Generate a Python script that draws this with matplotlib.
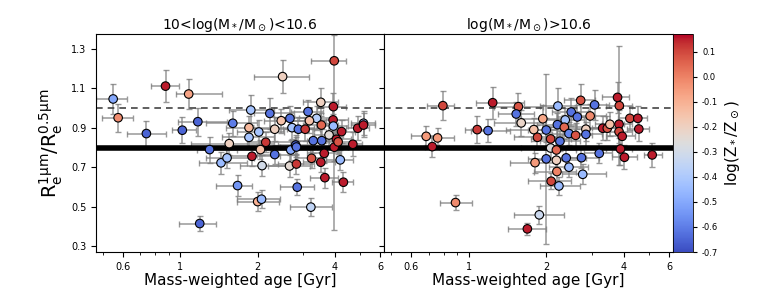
"""Size ratio vs mass-weighted age, two stellar-mass bins, coloured by metallicity."""

import numpy as np
import matplotlib
matplotlib.use("Agg")
import matplotlib.pyplot as plt
from matplotlib.ticker import FixedLocator, FixedFormatter, NullFormatter

plt.rcParams['mathtext.fontset'] = 'dejavusans'

# low-mass bin: 10 < log(M*/Msun) < 10.6
low_age = [0.548, 0.573, 0.876, 1.078, 0.738, 1.018, 1.17, 1.30, 1.19, 1.55,
           1.44, 1.52, 1.60, 1.67, 1.88, 1.85, 1.85, 2.02, 1.90, 2.05,
           2.15, 2.08, 2.00, 2.07, 2.23, 2.33, 2.33, 2.50, 2.47, 2.67,
           2.72, 2.69, 2.66, 2.83, 2.81, 2.83, 2.85, 3.24, 3.52, 3.63,
           3.65, 3.97, 4.31, 4.19, 3.22, 4.69, 3.97, 3.52, 3.94, 3.14,
           3.39, 3.18, 3.54, 3.93, 3.94, 4.24, 3.79, 4.90, 5.16, 5.16,
           2.88, 3.06, 3.29, 3.55, 4.05, 4.11]
low_age_lo = [0.469, 0.498, 0.770, 0.959, 0.623, 0.928, 0.98, 1.16, 0.99, 1.10,
              1.18, 1.26, 1.26, 1.38, 1.54, 1.51, 1.45, 1.66, 1.56, 1.51,
              1.81, 1.71, 1.66, 1.66, 1.93, 1.99, 1.93, 1.93, 2.11, 2.31,
              2.24, 2.24, 2.20, 2.40, 2.40, 2.45, 2.45, 2.80, 3.00, 3.10,
              3.20, 3.40, 3.90, 3.70, 2.67, 4.20, 3.21, 3.00, 3.40, 2.70,
              2.90, 2.70, 3.00, 3.40, 3.40, 3.70, 3.30, 4.40, 4.60, 4.60,
              2.50, 2.60, 2.80, 3.10, 3.50, 3.60]
low_age_hi = [0.623, 0.656, 0.988, 1.45, 0.881, 1.155, 1.52, 1.66, 1.38, 2.31,
              1.81, 1.93, 1.99, 1.90, 2.31, 2.24, 2.31, 2.53, 2.45, 2.31,
              2.77, 2.60, 2.42, 2.45, 2.77, 2.85, 2.77, 3.17, 3.12, 3.12,
              3.31, 3.20, 3.20, 3.30, 3.30, 3.30, 3.30, 3.70, 4.00, 4.20,
              4.10, 4.50, 4.70, 4.70, 3.90, 5.10, 4.41, 4.10, 4.40, 3.60,
              3.90, 3.70, 4.10, 4.50, 4.50, 4.80, 4.30, 5.40, 5.70, 5.70,
              3.30, 3.50, 3.80, 4.10, 4.60, 4.70]
low_ratio = [1.046, 0.951, 1.111, 1.071, 0.871, 0.888, 0.931, 0.790, 0.416, 0.820,
             0.723, 0.748, 0.923, 0.608, 0.990, 0.901, 0.852, 0.879, 0.756, 0.790,
             0.827, 0.709, 0.527, 0.539, 0.973, 0.765, 0.893, 1.159, 0.936, 0.948,
             0.901, 0.788, 0.707, 0.717, 0.813, 0.803, 0.600, 0.746, 0.726, 0.771,
             0.648, 0.802, 0.625, 0.738, 0.499, 0.817, 1.239, 1.029, 1.007, 0.982,
             0.948, 0.936, 0.914, 0.940, 0.909, 0.881, 0.864, 0.898, 0.923, 0.914,
             0.893, 0.893, 0.835, 0.835, 0.842, 0.829]
low_ratio_lo = [0.077, 0.072, 0.080, 0.077, 0.066, 0.066, 0.070, 0.066, 0.040, 0.055,
                0.054, 0.050, 0.063, 0.055, 0.078, 0.060, 0.060, 0.060, 0.050, 0.050,
                0.050, 0.055, 0.050, 0.045, 0.080, 0.050, 0.060, 0.085, 0.060, 0.060,
                0.060, 0.050, 0.055, 0.050, 0.050, 0.050, 0.040, 0.050, 0.050, 0.050,
                0.050, 0.070, 0.050, 0.050, 0.045, 0.060, 0.855, 0.070, 0.070, 0.060,
                0.060, 0.060, 0.060, 0.070, 0.060, 0.060, 0.060, 0.060, 0.060, 0.060,
                0.060, 0.060, 0.060, 0.060, 0.060, 0.060]
low_ratio_hi = [0.077, 0.072, 0.080, 0.077, 0.066, 0.066, 0.070, 0.066, 0.040, 0.055,
                0.054, 0.050, 0.063, 0.055, 0.078, 0.060, 0.060, 0.060, 0.050, 0.050,
                0.050, 0.055, 0.050, 0.045, 0.080, 0.050, 0.060, 0.085, 0.060, 0.060,
                0.060, 0.050, 0.055, 0.050, 0.050, 0.050, 0.040, 0.050, 0.050, 0.050,
                0.050, 0.070, 0.050, 0.050, 0.045, 0.060, 0.130, 0.070, 0.070, 0.060,
                0.060, 0.060, 0.060, 0.070, 0.060, 0.060, 0.060, 0.060, 0.060, 0.060,
                0.060, 0.060, 0.060, 0.060, 0.060, 0.060]
low_logz = [-0.50, -0.02, 0.15, -0.07, -0.65, -0.65, -0.65, -0.62, -0.65, -0.20,
            -0.45, -0.42, -0.60, -0.55, -0.42, -0.12, -0.42, -0.42, 0.15, -0.15,
            0.12, -0.30, -0.10, -0.45, -0.62, -0.62, -0.20, -0.20, -0.15, -0.62,
            -0.42, -0.50, -0.24, 0.12, -0.65, -0.62, -0.62, 0.08, 0.15, 0.15,
            0.15, 0.15, 0.15, -0.45, -0.35, 0.15, 0.10, -0.20, 0.15, -0.62,
            -0.38, -0.15, 0.05, 0.15, -0.45, 0.15, -0.25, 0.15, -0.42, 0.15,
            -0.62, 0.12, -0.62, -0.62, 0.15, 0.08]

# high-mass bin: log(M*/Msun) > 10.6
high_age = [0.795, 0.685, 0.758, 0.723, 0.890, 1.24, 1.08, 1.19, 1.56, 1.53,
            1.60, 1.79, 1.85, 1.94, 2.00, 2.08, 2.08, 2.19, 2.00, 1.81,
            2.19, 2.20, 2.09, 2.24, 1.88, 1.69, 2.22, 2.21, 2.37, 2.50,
            2.64, 2.35, 2.26, 2.45, 2.60, 2.72, 2.85, 2.85, 2.96, 3.08,
            2.39, 2.45, 2.74, 2.77, 3.21, 3.31, 3.45, 3.53, 3.78, 3.84,
            3.83, 3.83, 3.94, 3.88, 4.02, 4.22, 4.53, 4.57, 5.15]
high_age_lo = [0.689, 0.600, 0.680, 0.680, 0.772, 1.07, 0.97, 1.02, 1.25, 1.30,
               1.25, 1.40, 1.50, 1.60, 1.70, 1.75, 1.60, 1.80, 1.70, 1.45,
               1.80, 1.80, 1.70, 1.90, 1.50, 1.42, 1.90, 1.85, 2.00, 2.10,
               2.20, 2.00, 1.90, 2.10, 2.20, 2.35, 2.40, 2.40, 2.50, 2.70,
               2.00, 2.05, 2.30, 2.30, 2.80, 2.90, 3.00, 3.10, 3.30, 3.40,
               3.30, 3.30, 3.40, 3.40, 3.60, 3.80, 4.10, 4.10, 4.80]
high_age_hi = [0.880, 0.770, 0.880, 0.770, 1.03, 1.64, 1.22, 1.45, 1.95, 1.80,
               1.95, 2.20, 2.30, 2.40, 2.40, 2.50, 2.60, 2.60, 2.40, 2.20,
               2.70, 2.60, 2.50, 2.70, 2.35, 2.00, 2.60, 2.60, 2.80, 2.90,
               3.10, 2.80, 2.70, 2.90, 3.00, 3.10, 3.30, 3.30, 3.40, 3.50,
               2.85, 2.90, 3.20, 3.40, 3.60, 3.80, 3.90, 4.00, 4.20, 4.30,
               4.30, 4.30, 4.40, 4.30, 4.50, 4.60, 4.90, 5.00, 5.60]
high_ratio = [1.012, 0.857, 0.849, 0.805, 0.522, 1.027, 0.891, 0.886, 1.007, 0.970,
              0.925, 0.891, 0.852, 0.946, 0.889, 0.844, 0.798, 0.788, 0.743, 0.724,
              0.736, 0.679, 0.630, 0.606, 0.460, 0.389, 1.010, 0.916, 0.940, 0.980,
              0.955, 0.903, 0.832, 0.871, 0.862, 1.039, 0.893, 0.867, 0.960, 1.016,
              0.748, 0.701, 0.749, 0.665, 0.771, 0.898, 0.898, 0.918, 1.054, 1.012,
              0.918, 0.881, 0.857, 0.793, 0.751, 0.948, 0.948, 0.894, 0.763]
high_ratio_err = [0.072, 0.050, 0.050, 0.055, 0.040, 0.080, 0.070, 0.060, 0.070, 0.060,
                  0.065, 0.060, 0.060, 0.070, 0.060, 0.060, 0.050, 0.050, 0.430, 0.050,
                  0.050, 0.050, 0.040, 0.045, 0.045, 0.030, 0.090, 0.060, 0.060, 0.070,
                  0.060, 0.060, 0.050, 0.060, 0.060, 0.085, 0.060, 0.060, 0.060, 0.075,
                  0.050, 0.050, 0.050, 0.050, 0.050, 0.060, 0.060, 0.060, 0.080, 0.300,
                  0.070, 0.060, 0.060, 0.080, 0.060, 0.060, 0.060, 0.060, 0.060]
high_logz = [0.10, -0.05, -0.05, 0.15, -0.02, 0.15, 0.12, -0.62, 0.08, -0.62,
             -0.22, -0.15, 0.10, -0.08, -0.62, 0.10, -0.27, 0.05, -0.62, -0.05,
             -0.20, 0.00, 0.10, -0.45, -0.32, 0.15, -0.45, -0.62, -0.42, -0.62,
             -0.62, 0.05, -0.62, -0.58, 0.08, 0.08, -0.20, -0.62, -0.02, -0.62,
             -0.62, -0.45, -0.62, -0.45, -0.62, 0.15, 0.08, -0.15, 0.15, 0.10,
             0.15, 0.10, 0.15, 0.15, 0.15, 0.10, 0.15, 0.15, 0.15]

titles = [r'10<log(M$_*$/M$_\odot$)<10.6', r'log(M$_*$/M$_\odot$)>10.6']
xticks = [0.6, 1, 2, 4, 6]
xtick_labels = ['0.6', '1', '2', '4', '6']
yticks = [0.3, 0.5, 0.7, 0.9, 1.1, 1.3]
cbar_ticks = [0.1, 0.0, -0.1, -0.2, -0.3, -0.4, -0.5, -0.6, -0.7]
zmin, zmax = -0.7, 0.17

fig = plt.figure(figsize=(7.7, 2.89), dpi=100)
ax1 = fig.add_axes([0.1247, 0.128, 0.374, 0.754])
ax2 = fig.add_axes([0.4987, 0.128, 0.3753, 0.754])
cax = fig.add_axes([0.874, 0.128, 0.026, 0.754])

panels = [
    (ax1, low_age, low_age_lo, low_age_hi, low_ratio, low_ratio_lo, low_ratio_hi, low_logz),
    (ax2, high_age, high_age_lo, high_age_hi, high_ratio, high_ratio_err, high_ratio_err, high_logz),
]

for i, (ax, age, alo, ahi, ratio, rlo, rhi, logz) in enumerate(panels):
    age = np.array(age)
    xerr = [age - np.array(alo), np.array(ahi) - age]
    yerr = [rlo, rhi]
    ax.errorbar(age, ratio, xerr=xerr, yerr=yerr, fmt='none', ecolor='grey',
                elinewidth=1.1, capsize=2, capthick=1, alpha=0.8, zorder=1)
    ax.axhline(1.0, color='#444444', lw=1.2, ls=(0, (4, 3)), zorder=2)
    ax.axhline(0.8, color='black', lw=4, zorder=2)
    sc = ax.scatter(age, ratio, c=logz, cmap='coolwarm', vmin=zmin, vmax=zmax,
                    s=38, edgecolors='black', linewidths=0.8, zorder=3)

    ax.set_xscale('log')
    ax.set_xlim(0.47, 6.2)
    ax.set_ylim(0.272, 1.374)
    ax.xaxis.set_major_locator(FixedLocator(xticks))
    ax.xaxis.set_major_formatter(FixedFormatter(xtick_labels))
    ax.xaxis.set_minor_formatter(NullFormatter())
    ax.set_yticks(yticks)
    ax.tick_params(labelsize=7, length=3.5)
    ax.tick_params(which='minor', length=2)
    ax.set_xlabel('Mass-weighted age [Gyr]', fontsize=11, labelpad=1)
    ax.set_title(titles[i], fontsize=10, pad=4)
    if i == 1:
        ax.set_yticklabels([])

ax1.set_ylabel(r'R$_\mathrm{e}^{1\mathrm{\mu m}}$/R$_\mathrm{e}^{0.5\mathrm{\mu m}}$',
               fontsize=14, labelpad=4)

cb = fig.colorbar(sc, cax=cax, ticks=cbar_ticks)
cb.ax.tick_params(labelsize=6, length=3)
cb.ax.set_yticklabels(['%.1f' % t for t in cbar_ticks])
cb.outline.set_linewidth(0.6)
cb.set_label(r'log(Z$_*$/Z$_\odot$)', fontsize=11, labelpad=4)

fig.savefig('out.png', dpi=100)
